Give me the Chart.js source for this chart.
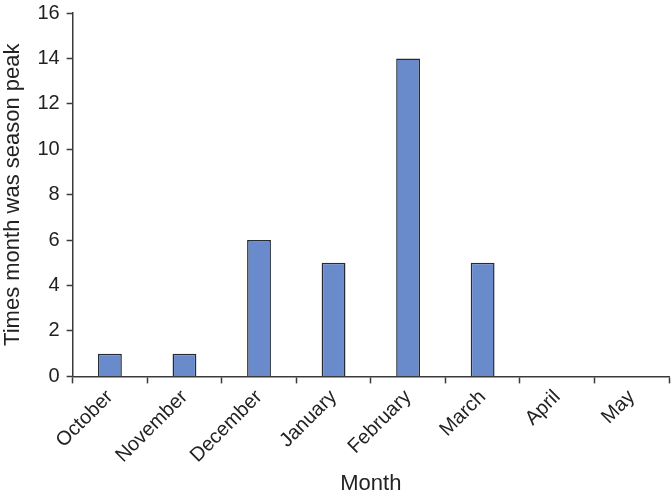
<!DOCTYPE html>
<html>
<head>
<meta charset="utf-8">
<script src="https://cdn.jsdelivr.net/npm/chart.js@4/dist/chart.umd.min.js"></script>
<style>
  html, body { margin: 0; padding: 0; background: #fff; }
  #wrap { width: 672px; height: 497px; }
</style>
</head>
<body>
<div id="wrap"><canvas id="grafico"></canvas></div>
<script>
// Months and how many times each was the season peak
const meses = ["October", "November", "December", "January", "February", "March", "April", "May"];
const picos = [1, 1, 6, 5, 14, 5, 0, 0];
const yTicks = [0, 2, 4, 6, 8, 10, 12, 14, 16];

const ctx = document.getElementById("grafico").getContext("2d");
const ejeColor = '#3a3a3a';

new Chart(ctx, {
  type: 'bar',
  data: {
    labels: meses,
    datasets: [{
      label: 'Times month was season peak',
      data: picos,
      backgroundColor: '#6a8bcb',
      borderColor: '#262b36',
      borderWidth: 1.5,
      barPercentage: 0.32,
      categoryPercentage: 1
    }]
  },
  options: {
    responsive: true,
    maintainAspectRatio: false,
    animation: false,
    layout: { padding: { top: 0, right: 3, bottom: 0, left: 0 } },
    plugins: {
      legend: { display: false },
      tooltip: { enabled: false }
    },
    scales: {
      x: {
        grid: {
          offset: true,
          drawOnChartArea: false,
          drawTicks: true,
          tickLength: 7,
          tickColor: ejeColor,
          tickWidth: 1.5
        },
        border: { color: ejeColor, width: 1.5 },
        ticks: {
          color: '#222',
          font: { family: 'Liberation Sans, Arial', size: 20 },
          minRotation: 45,
          maxRotation: 45,
          padding: 2
        },
        title: {
          display: true,
          text: 'Month',
          color: '#222',
          font: { family: 'Liberation Sans, Arial', size: 22 },
          padding: { top: 1, bottom: 0 }
        }
      },
      y: {
        min: 0,
        max: 16,
        afterBuildTicks: (axis) => { axis.ticks = yTicks.map(v => ({ value: v })); },
        grid: {
          drawOnChartArea: false,
          drawTicks: true,
          tickLength: 6,
          tickColor: ejeColor,
          tickWidth: 1.5
        },
        border: { color: ejeColor, width: 1.5 },
        ticks: {
          color: '#222',
          font: { family: 'Liberation Sans, Arial', size: 20, lineHeight: 0.6 },
          padding: 7
        },
        title: {
          display: true,
          text: 'Times month was season peak',
          color: '#222',
          font: { family: 'Liberation Sans, Arial', size: 22 },
          padding: { top: 0, bottom: 4 }
        }
      }
    }
  }
});
</script>
</body>
</html>
